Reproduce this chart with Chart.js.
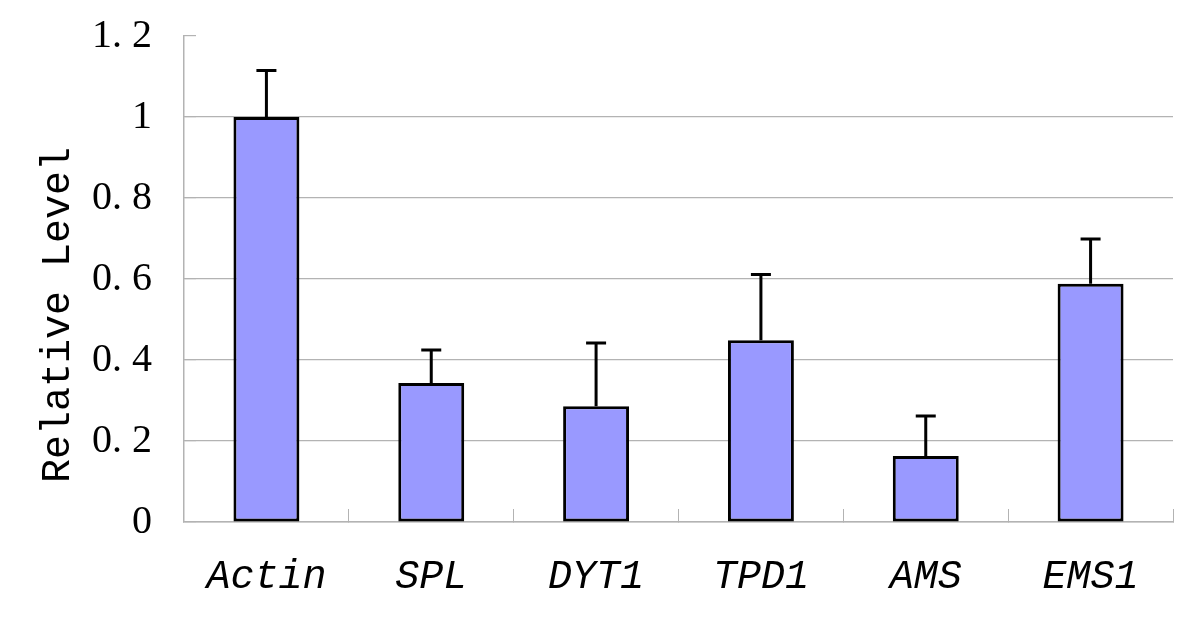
<!DOCTYPE html>
<html>
<head>
<meta charset="utf-8">
<script src="https://cdn.jsdelivr.net/npm/chart.js@4.4.1/dist/chart.umd.min.js"></script>
<style>
  html, body { margin: 0; padding: 0; background: #ffffff; }
  #wrap { width: 1200px; height: 624px; position: relative; }
</style>
</head>
<body>
<div id="wrap"><canvas id="c" width="1200" height="624"></canvas></div>
<script>
const categories = ["Actin", "SPL", "DYT1", "TPD1", "AMS", "EMS1"];
const values = [1.0, 0.343, 0.286, 0.449, 0.163, 0.588];
const errors = [0.115, 0.082, 0.156, 0.162, 0.099, 0.111];
const yTicks = [0, 0.2, 0.4, 0.6, 0.8, 1.0, 1.2];
const yTickLabels = ["0", "0. 2", "0. 4", "0. 6", "0. 8", "1", "1. 2"];
const yTitle = "Relative Level   ";

const errorBarPlugin = {
  id: 'errorBars',
  afterDatasetsDraw(chart) {
    const ctx = chart.ctx;
    const xs = chart.scales.x, ys = chart.scales.y;
    ctx.save();
    ctx.strokeStyle = '#000000';
    ctx.lineWidth = 3;
    values.forEach((v, i) => {
      const x = xs.getPixelForValue(i);
      const y0 = ys.getPixelForValue(v);
      const y1 = ys.getPixelForValue(v + errors[i]);
      ctx.beginPath();
      ctx.moveTo(x, y0);
      ctx.lineTo(x, y1);
      ctx.moveTo(x - 10, y1);
      ctx.lineTo(x + 10, y1);
      ctx.stroke();
    });
    ctx.restore();
  }
};

new Chart(document.getElementById('c'), {
  type: 'bar',
  data: {
    labels: categories,
    datasets: [{
      data: values,
      backgroundColor: '#9999FF',
      borderColor: '#000000',
      borderWidth: 3,
      borderSkipped: false,
      barPercentage: 0.4,
      categoryPercentage: 1.0
    }]
  },
  options: {
    responsive: false,
    animation: false,
    devicePixelRatio: 1,
    layout: { padding: { top: 36, right: 27, left: 0, bottom: 0 } },
    plugins: { legend: { display: false }, tooltip: { enabled: false } },
    scales: {
      x: {
        grid: {
          offset: true,
          drawOnChartArea: false,
          drawTicks: true,
          tickLength: -13,
          color: '#b3b3b3',
          lineWidth: 1
        },
        border: { display: true, color: '#b3b3b3', width: 1.5 },
        ticks: {
          padding: 44,
          color: '#000000',
          font: { family: 'Liberation Mono', size: 40, style: 'italic' }
        },
        afterFit(scale) { scale.height = 102; }
      },
      y: {
        min: 0,
        max: 1.2,
        afterBuildTicks(scale) { scale.ticks = yTicks.map(v => ({ value: v })); },
        grid: {
          drawTicks: true,
          tickLength: -12,
          color: (c) => (c.tick && c.tick.value >= 1.2 - 1e-9) ? 'rgba(0,0,0,0)' : '#b3b3b3',
          tickColor: '#b3b3b3',
          lineWidth: 1.2
        },
        border: { display: true, color: '#b3b3b3', width: 1.5 },
        ticks: {
          padding: 44,
          color: '#000000',
          font: { family: 'Liberation Serif', size: 40 },
          callback: function(value) {
            const idx = yTicks.findIndex(t => Math.abs(t - value) < 1e-9);
            return idx >= 0 ? yTickLabels[idx] : '';
          }
        },
        title: {
          display: true,
          text: yTitle,
          color: '#000000',
          font: { family: 'Liberation Mono', size: 40 },
          padding: { top: 34, bottom: 0 }
        },
        afterFit(scale) {
          scale.width = 184;
          scale.paddingTop = 0;
          scale.paddingBottom = 0;
        }
      }
    }
  },
  plugins: [errorBarPlugin]
});
</script>
</body>
</html>
